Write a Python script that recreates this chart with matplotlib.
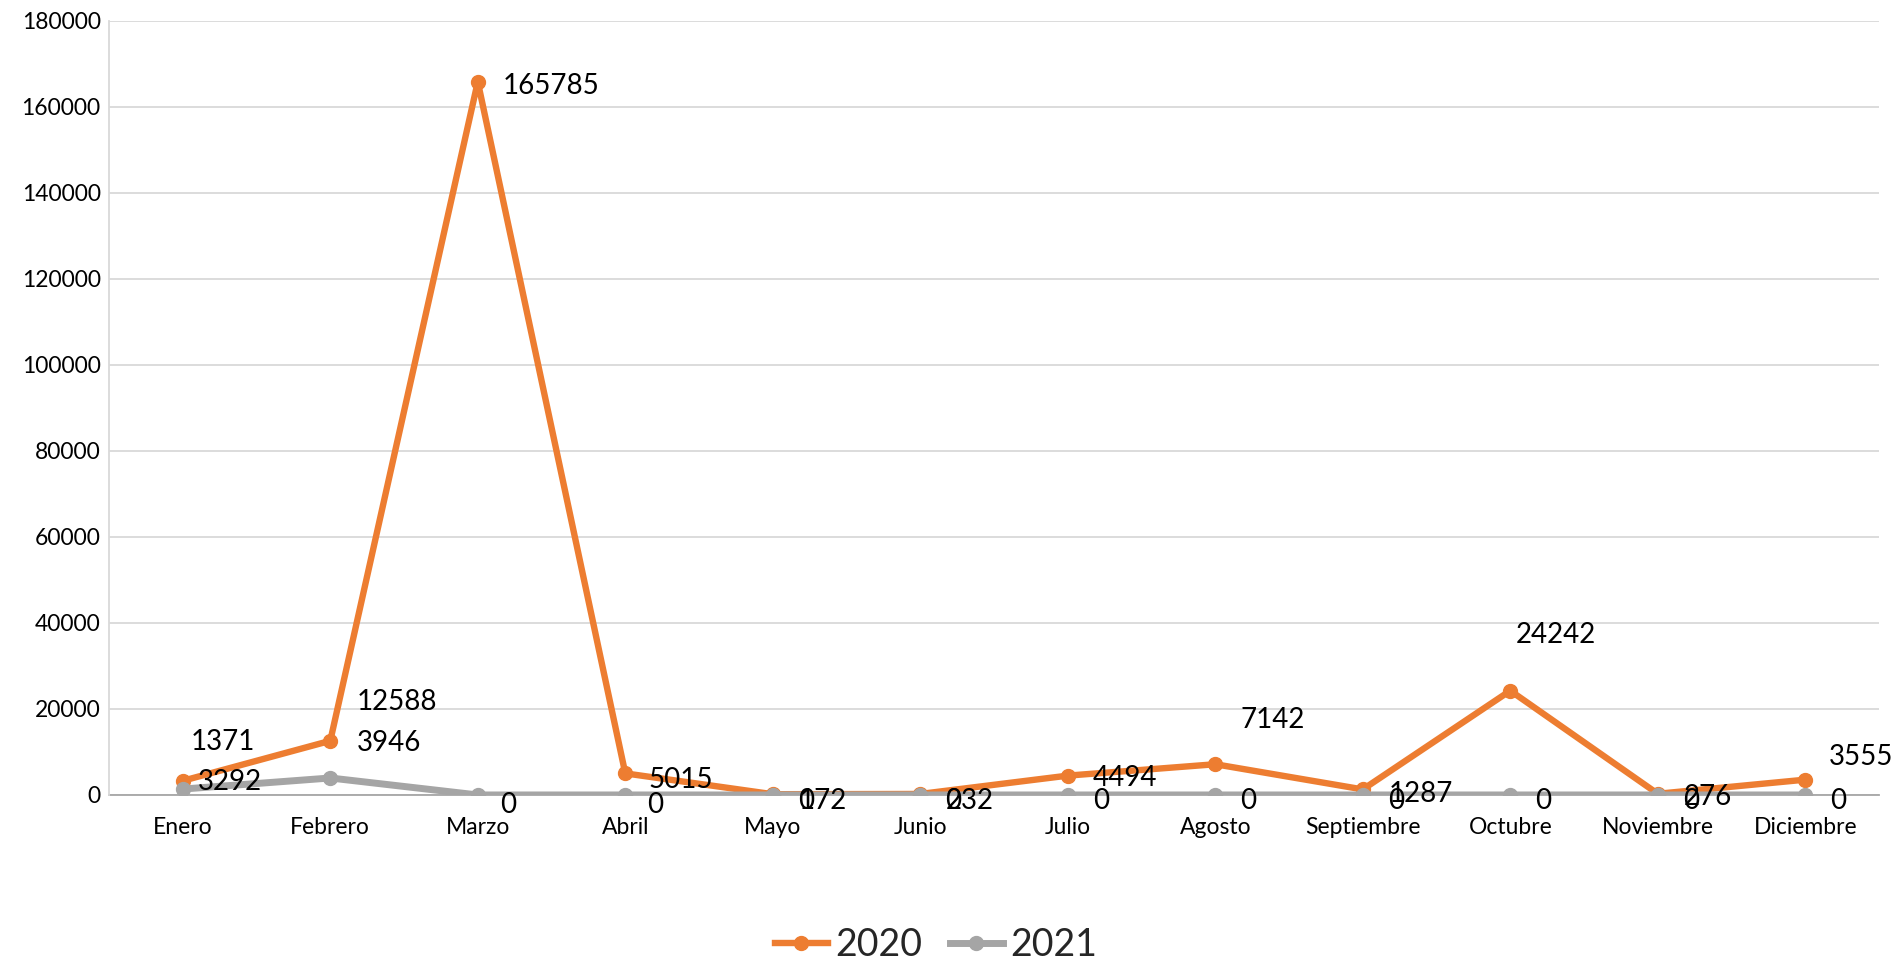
import matplotlib
matplotlib.use("Agg")
import matplotlib.pyplot as plt

plt.rcParams["font.family"] = ["Lato", "DejaVu Sans"]

MONTHS = ["Enero", "Febrero", "Marzo", "Abril", "Mayo", "Junio", "Julio",
          "Agosto", "Septiembre", "Octubre", "Noviembre", "Diciembre"]
VALUES_2020 = [3292, 12588, 165785, 5015, 172, 232, 4494, 7142, 1287, 24242, 276, 3555]
VALUES_2021 = [1371, 3946, 0, 0, 0, 0, 0, 0, 0, 0, 0, 0]
Y_TICKS = [0, 20000, 40000, 60000, 80000, 100000, 120000, 140000, 160000, 180000]

ORANGE = "#ED7D31"
GRAY = "#A5A5A5"

# label offsets in points (dx, dy) from each point, left-aligned text
OFF_2020 = [(11, -1), (19, 28), (18, -3), (17, -5), (19, -5), (18, -5),
            (18, -2), (18, 32), (19, -3), (4, 40), (19, -2), (17, 16)]
OFF_2021 = [(6, 34), (19, 25), (16, -7), (16, -7), (18, -4), (18, -4),
            (18, -4), (18, -4), (18, -4), (18, -4), (18, -4), (18, -4)]

fig = plt.figure(figsize=(19.03, 9.63), dpi=100)
ax = fig.add_axes([0.0573, 0.1745, 0.9301, 0.8041])

x = list(range(len(MONTHS)))
ax.plot(x, VALUES_2020, "-o", color=ORANGE, lw=4.6, ms=10, label="2020", zorder=3)
ax.plot(x, VALUES_2021, "-o", color=GRAY, lw=5, ms=10, label="2021", zorder=4)

for xi, v, (dx, dy) in zip(x, VALUES_2020, OFF_2020):
    ax.annotate(str(v), (xi, v), xytext=(dx, dy), textcoords="offset points",
                ha="left", va="center", fontsize=20, color="black", zorder=6)
for xi, v, (dx, dy) in zip(x, VALUES_2021, OFF_2021):
    ax.annotate(str(v), (xi, v), xytext=(dx, dy), textcoords="offset points",
                ha="left", va="center", fontsize=20, color="black", zorder=6)

ax.set_xlim(-0.5, len(MONTHS) - 0.5)
ax.set_ylim(0, 180000)
ax.set_yticks(Y_TICKS)
ax.set_yticklabels([str(t) for t in Y_TICKS])
ax.set_xticks(x)
ax.set_xticklabels(MONTHS)
ax.tick_params(axis="y", length=0, pad=6, labelsize=16.5, labelcolor="black")
ax.tick_params(axis="x", length=0, pad=16, labelsize=16.5, labelcolor="black")

ax.grid(axis="y", color="#D9D9D9", lw=1.3)
ax.set_axisbelow(True)
for side in ["top", "right"]:
    ax.spines[side].set_visible(False)
ax.spines["left"].set_color("#D9D9D9")
ax.spines["left"].set_linewidth(1.3)
ax.spines["bottom"].set_color("#A6A6A6")
ax.spines["bottom"].set_linewidth(1.3)
ax.spines["bottom"].set_zorder(2)

fig.legend(loc="center", bbox_to_anchor=(936 / 1903, 18 / 963), ncol=2,
           frameon=False, fontsize=27, handlelength=1.4, handletextpad=0.2,
           columnspacing=0.75, labelcolor="#262626")

fig.savefig("out.png", dpi=100)
